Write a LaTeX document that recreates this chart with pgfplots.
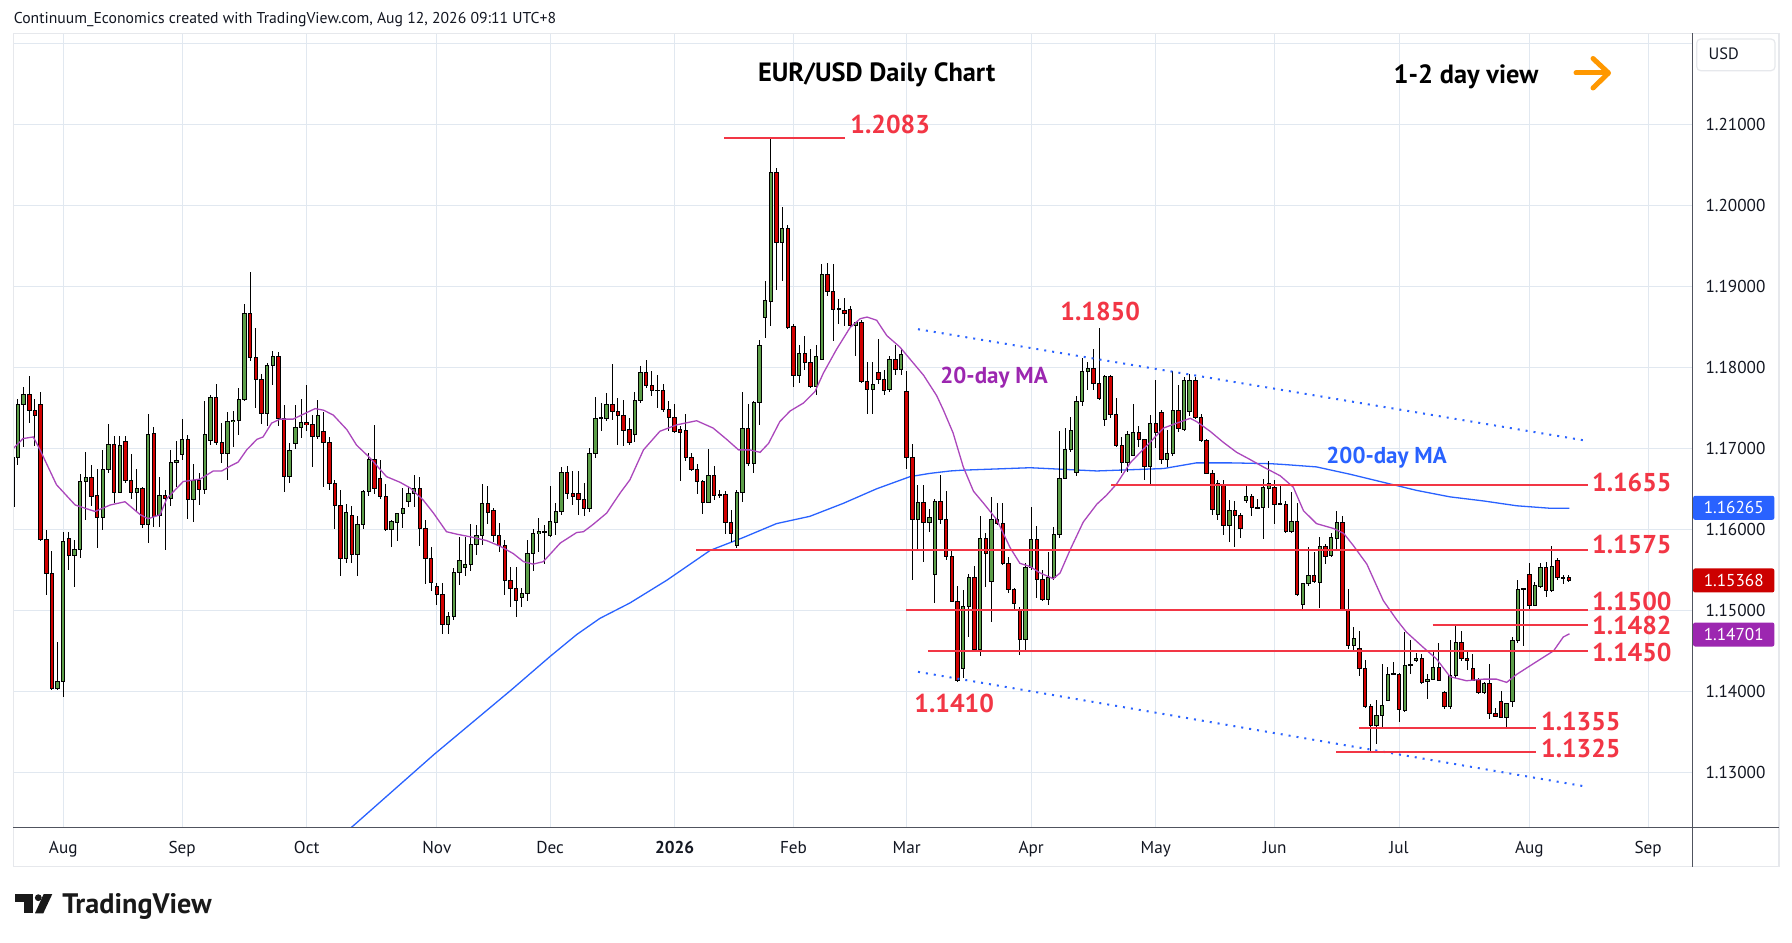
\documentclass[border=0pt]{standalone}
\usepackage{fontspec}
\setmainfont{PT Sans}
\usepackage{pgfplots}
\usepackage{pgfplotstable}
\pgfplotsset{compat=1.18}
\definecolor{cgreen}{RGB}{92,158,72}
\definecolor{cred}{RGB}{209,0,0}
\definecolor{lvl}{RGB}{242,54,69}
\definecolor{tvblue}{RGB}{41,98,255}
\definecolor{tvpurple}{RGB}{156,39,176}
\definecolor{mapurple}{RGB}{171,71,188}
\definecolor{tvgrid}{RGB}{225,232,240}
\definecolor{tvtext}{RGB}{19,23,34}
\definecolor{tvaxis}{RGB}{80,83,94}
\definecolor{tvborder}{RGB}{230,232,236}
\definecolor{tvorange}{RGB}{255,152,0}
\definecolor{tagred}{RGB}{204,0,0}
\newcommand\fs[1]{\fontsize{#1}{#1}\selectfont}
\newcommand\pp[2]{({(#1)*0.5pt},{(942-(#2))*0.5pt})}

\pgfplotstableread{
i o h l c
-9 1.1628 1.1692 1.1620 1.1689
-8 1.1689 1.1761 1.1679 1.1754
-7 1.1754 1.1776 1.1702 1.1766
-6 1.1766 1.1789 1.1731 1.1747
-5 1.1747 1.1761 1.1703 1.1740
-4 1.1754 1.1770 1.1586 1.1587
-3 1.1587 1.1599 1.1519 1.1546
-2 1.1546 1.1573 1.1402 1.1404
-1 1.1404 1.1461 1.1402 1.1412
0 1.1412 1.1597 1.1393 1.1585
1 1.1589 1.1597 1.1550 1.1568
2 1.1568 1.1587 1.1529 1.1575
3 1.1575 1.1668 1.1565 1.1659
4 1.1659 1.1695 1.1612 1.1664
5 1.1664 1.1679 1.1629 1.1640
6 1.1642 1.1675 1.1577 1.1615
7 1.1615 1.1698 1.1599 1.1674
8 1.1674 1.1730 1.1669 1.1705
9 1.1705 1.1715 1.1632 1.1646
10 1.1646 1.1715 1.1645 1.1703
11 1.1709 1.1715 1.1657 1.1660
12 1.1660 1.1693 1.1638 1.1645
13 1.1645 1.1674 1.1623 1.1650
14 1.1650 1.1652 1.1602 1.1606
15 1.1606 1.1742 1.1583 1.1717
16 1.1718 1.1726 1.1603 1.1616
17 1.1617 1.1665 1.1603 1.1642
18 1.1642 1.1648 1.1575 1.1638
19 1.1638 1.1698 1.1629 1.1683
20 1.1683 1.1709 1.1652 1.1685
21 1.1692 1.1736 1.1686 1.1711
22 1.1711 1.1717 1.1613 1.1637
23 1.1637 1.1681 1.1609 1.1660
24 1.1660 1.1669 1.1630 1.1649
25 1.1649 1.1759 1.1644 1.1717
26 1.1709 1.1766 1.1704 1.1763
27 1.1763 1.1779 1.1704 1.1707
28 1.1707 1.1731 1.1682 1.1694
29 1.1694 1.1745 1.1661 1.1733
30 1.1733 1.1746 1.1701 1.1735
31 1.1735 1.1774 1.1717 1.1760
32 1.1760 1.1878 1.1758 1.1866
33 1.1866 1.1918 1.1808 1.1812
34 1.1812 1.1848 1.1750 1.1785
35 1.1785 1.1792 1.1730 1.1743
36 1.1743 1.1805 1.1727 1.1802
37 1.1802 1.1820 1.1778 1.1814
38 1.1814 1.1819 1.1728 1.1737
39 1.1737 1.1754 1.1646 1.1665
40 1.1665 1.1707 1.1657 1.1697
41 1.1706 1.1754 1.1699 1.1726
42 1.1726 1.1761 1.1713 1.1732
43 1.1732 1.1778 1.1722 1.1729
44 1.1729 1.1741 1.1677 1.1715
45 1.1715 1.1760 1.1712 1.1740
46 1.1721 1.1745 1.1652 1.1707
47 1.1707 1.1714 1.1648 1.1657
48 1.1657 1.1661 1.1600 1.1629
49 1.1629 1.1649 1.1543 1.1564
50 1.1564 1.1631 1.1558 1.1621
51 1.1617 1.1629 1.1558 1.1569
52 1.1569 1.1616 1.1543 1.1606
53 1.1606 1.1649 1.1601 1.1647
54 1.1647 1.1694 1.1641 1.1686
55 1.1686 1.1729 1.1644 1.1651
56 1.1663 1.1686 1.1637 1.1641
57 1.1641 1.1656 1.1598 1.1600
58 1.1600 1.1612 1.1578 1.1609
59 1.1609 1.1620 1.1586 1.1619
60 1.1619 1.1651 1.1602 1.1626
61 1.1635 1.1652 1.1628 1.1644
62 1.1644 1.1667 1.1628 1.1650
63 1.1650 1.1665 1.1579 1.1601
64 1.1601 1.1612 1.1532 1.1564
65 1.1564 1.1578 1.1524 1.1534
66 1.1529 1.1534 1.1507 1.1520
67 1.1520 1.1534 1.1471 1.1483
68 1.1483 1.1498 1.1471 1.1492
69 1.1492 1.1552 1.1488 1.1547
70 1.1547 1.1591 1.1531 1.1562
71 1.1553 1.1591 1.1542 1.1557
72 1.1557 1.1607 1.1548 1.1581
73 1.1581 1.1605 1.1568 1.1593
74 1.1593 1.1656 1.1581 1.1632
75 1.1632 1.1653 1.1607 1.1621
76 1.1623 1.1626 1.1585 1.1592
77 1.1592 1.1608 1.1572 1.1580
78 1.1580 1.1587 1.1519 1.1537
79 1.1537 1.1553 1.1504 1.1527
80 1.1527 1.1553 1.1492 1.1512
81 1.1516 1.1527 1.1504 1.1521
82 1.1521 1.1587 1.1512 1.1570
83 1.1570 1.1601 1.1548 1.1595
84 1.1595 1.1614 1.1572 1.1597
85 1.1597 1.1605 1.1557 1.1596
86 1.1592 1.1653 1.1591 1.1609
87 1.1609 1.1632 1.1593 1.1622
88 1.1622 1.1677 1.1618 1.1670
89 1.1670 1.1678 1.1638 1.1644
90 1.1644 1.1672 1.1630 1.1641
91 1.1644 1.1672 1.1618 1.1637
92 1.1637 1.1657 1.1616 1.1626
93 1.1626 1.1700 1.1622 1.1694
94 1.1694 1.1763 1.1688 1.1737
95 1.1737 1.1756 1.1721 1.1738
96 1.1737 1.1768 1.1734 1.1754
97 1.1754 1.1804 1.1735 1.1745
98 1.1745 1.1762 1.1704 1.1740
99 1.1740 1.1760 1.1703 1.1722
100 1.1723 1.1737 1.1704 1.1707
101 1.1717 1.1769 1.1708 1.1759
102 1.1759 1.1802 1.1756 1.1794
103 1.1794 1.1809 1.1774 1.1778
104 1.1778 1.1796 1.1765 1.1771
105 1.1771 1.1790 1.1750 1.1772
106 1.1771 1.1780 1.1745 1.1748
107 1.1748 1.1759 1.1722 1.1738
108 1.1738 1.1755 1.1719 1.1721
109 1.1723 1.1727 1.1660 1.1720
110 1.1722 1.1743 1.1685 1.1689
111 1.1689 1.1694 1.1672 1.1674
112 1.1674 1.1680 1.1644 1.1659
113 1.1659 1.1661 1.1619 1.1633
114 1.1633 1.1699 1.1632 1.1667
115 1.1667 1.1678 1.1636 1.1642
116 1.1642 1.1648 1.1639 1.1643
117 1.1643 1.1647 1.1594 1.1608
118 1.1608 1.1624 1.1584 1.1595
119 1.1580 1.1648 1.1577 1.1645
120 1.1645 1.1769 1.1634 1.1724
121 1.1724 1.1755 1.1678 1.1681
122 1.1681 1.1759 1.1669 1.1756
123 1.1756 1.1834 1.1729 1.1827
124 1.1861 1.1907 1.1836 1.1882
125 1.1881 1.2083 1.1851 1.2040
126 1.2040 1.2046 1.1896 1.1954
127 1.1954 1.1998 1.1907 1.1971
128 1.1971 1.1976 1.1847 1.1849
129 1.1851 1.1853 1.1776 1.1790
130 1.1790 1.1828 1.1781 1.1817
131 1.1817 1.1838 1.1797 1.1806
132 1.1806 1.1822 1.1774 1.1776
133 1.1776 1.1827 1.1766 1.1814
134 1.1810 1.1927 1.1809 1.1915
135 1.1915 1.1929 1.1888 1.1894
136 1.1894 1.1928 1.1833 1.1871
137 1.1871 1.1885 1.1854 1.1872
138 1.1870 1.1885 1.1851 1.1867
139 1.1872 1.1876 1.1849 1.1852
140 1.1852 1.1856 1.1814 1.1855
141 1.1855 1.1858 1.1780 1.1783
142 1.1783 1.1807 1.1743 1.1773
143 1.1773 1.1807 1.1743 1.1779
144 1.1793 1.1835 1.1779 1.1785
145 1.1785 1.1797 1.1766 1.1772
146 1.1772 1.1814 1.1770 1.1810
147 1.1810 1.1828 1.1791 1.1797
148 1.1797 1.1824 1.1790 1.1816
149 1.1770 1.1795 1.1675 1.1688
150 1.1688 1.1706 1.1537 1.1612
151 1.1612 1.1655 1.1574 1.1633
152 1.1633 1.1655 1.1560 1.1608
153 1.1608 1.1625 1.1597 1.1615
154 1.1544 1.1637 1.1509 1.1635
155 1.1635 1.1667 1.1607 1.1612
156 1.1612 1.1647 1.1562 1.1567
157 1.1567 1.1574 1.1510 1.1511
158 1.1511 1.1530 1.1412 1.1414
159 1.1428 1.1525 1.1416 1.1505
160 1.1505 1.1545 1.1467 1.1540
161 1.1540 1.1555 1.1451 1.1452
162 1.1452 1.1616 1.1444 1.1589
163 1.1589 1.1595 1.1529 1.1570
164 1.1536 1.1640 1.1486 1.1612
165 1.1612 1.1633 1.1605 1.1607
166 1.1607 1.1632 1.1556 1.1558
167 1.1558 1.1566 1.1521 1.1526
168 1.1526 1.1528 1.1502 1.1508
169 1.1501 1.1504 1.1445 1.1464
170 1.1464 1.1558 1.1448 1.1553
171 1.1553 1.1627 1.1550 1.1588
172 1.1588 1.1604 1.1515 1.1538
173 1.1538 1.1550 1.1512 1.1514
174 1.1514 1.1572 1.1507 1.1541
175 1.1541 1.1603 1.1537 1.1594
176 1.1594 1.1721 1.1589 1.1663
177 1.1663 1.1725 1.1662 1.1698
178 1.1698 1.1739 1.1696 1.1722
179 1.1670 1.1765 1.1666 1.1758
180 1.1758 1.1811 1.1752 1.1795
181 1.1795 1.1807 1.1772 1.1799
182 1.1799 1.1823 1.1772 1.1780
183 1.1780 1.1848 1.1760 1.1762
184 1.1736 1.1791 1.1728 1.1788
185 1.1788 1.1791 1.1738 1.1742
186 1.1742 1.1762 1.1702 1.1703
187 1.1703 1.1714 1.1670 1.1683
188 1.1683 1.1721 1.1671 1.1717
189 1.1691 1.1755 1.1690 1.1719
190 1.1719 1.1728 1.1702 1.1711
191 1.1711 1.1712 1.1661 1.1677
192 1.1677 1.1741 1.1656 1.1731
193 1.1731 1.1785 1.1700 1.1719
194 1.1744 1.1747 1.1681 1.1686
195 1.1686 1.1723 1.1677 1.1693
196 1.1693 1.1796 1.1690 1.1747
197 1.1747 1.1778 1.1720 1.1724
198 1.1723 1.1788 1.1722 1.1784
199 1.1745 1.1792 1.1740 1.1784
200 1.1784 1.1788 1.1736 1.1738
201 1.1738 1.1742 1.1708 1.1709
202 1.1709 1.1712 1.1668 1.1669
203 1.1669 1.1673 1.1618 1.1625
204 1.1618 1.1661 1.1612 1.1656
205 1.1656 1.1661 1.1593 1.1605
206 1.1605 1.1636 1.1585 1.1623
207 1.1623 1.1635 1.1578 1.1617
208 1.1617 1.1620 1.1589 1.1601
209 1.1636 1.1653 1.1632 1.1640
210 1.1640 1.1644 1.1616 1.1627
211 1.1626 1.1638 1.1625 1.1627
212 1.1627 1.1662 1.1588 1.1651
213 1.1650 1.1685 1.1626 1.1657
214 1.1651 1.1661 1.1607 1.1631
215 1.1631 1.1654 1.1630 1.1632
216 1.1631 1.1635 1.1595 1.1597
217 1.1597 1.1646 1.1596 1.1609
218 1.1609 1.1633 1.1518 1.1520
219 1.1507 1.1533 1.1500 1.1533
220 1.1533 1.1578 1.1530 1.1543
221 1.1543 1.1572 1.1534 1.1535
222 1.1535 1.1590 1.1503 1.1579
223 1.1579 1.1582 1.1557 1.1566
224 1.1568 1.1595 1.1566 1.1590
225 1.1589 1.1622 1.1576 1.1608
226 1.1608 1.1616 1.1499 1.1500
227 1.1500 1.1526 1.1452 1.1457
228 1.1457 1.1479 1.1451 1.1465
229 1.1453 1.1474 1.1419 1.1428
230 1.1428 1.1439 1.1379 1.1381
231 1.1381 1.1384 1.1326 1.1358
232 1.1358 1.1389 1.1335 1.1370
233 1.1370 1.1434 1.1356 1.1382
234 1.1389 1.1430 1.1388 1.1421
235 1.1421 1.1436 1.1420 1.1422
236 1.1421 1.1423 1.1362 1.1377
237 1.1377 1.1473 1.1374 1.1432
238 1.1432 1.1463 1.1421 1.1433
239 1.1438 1.1447 1.1436 1.1441
240 1.1441 1.1446 1.1409 1.1411
241 1.1412 1.1421 1.1391 1.1415
242 1.1415 1.1450 1.1414 1.1429
243 1.1429 1.1460 1.1413 1.1414
244 1.1399 1.1400 1.1378 1.1381
245 1.1381 1.1463 1.1378 1.1419
246 1.1419 1.1482 1.1417 1.1460
247 1.1460 1.1474 1.1438 1.1441
248 1.1441 1.1451 1.1426 1.1438
249 1.1428 1.1446 1.1413 1.1414
250 1.1414 1.1417 1.1397 1.1398
251 1.1398 1.1412 1.1397 1.1410
252 1.1410 1.1434 1.1366 1.1373
253 1.1373 1.1380 1.1368 1.1369
254 1.1388 1.1400 1.1367 1.1368
255 1.1368 1.1386 1.1354 1.1385
256 1.1387 1.1467 1.1380 1.1463
257 1.1463 1.1537 1.1460 1.1526
258 1.1526 1.1527 1.1456 1.1527
259 1.1544 1.1559 1.1500 1.1506
260 1.1506 1.1535 1.1505 1.1530
261 1.1530 1.1559 1.1528 1.1553
262 1.1553 1.1559 1.1516 1.1524
263 1.1524 1.1580 1.1523 1.1554
264 1.1562 1.1565 1.1538 1.1540
265 1.1540 1.1543 1.1532 1.1541
266 1.1540 1.1544 1.1535 1.1537
}\candles

\pgfplotsset{
  candle/.style={draw=none, mark=none, forget plot,
    error bars/y dir=both, error bars/y explicit, error bars/error mark=none,
    error bars/error bar style={#1}},
}

\begin{document}
\begin{tikzpicture}
\useasboundingbox (0,0) rectangle (896pt,471pt);
\fill[white] (0,0) rectangle (896pt,471pt);
\begin{axis}[
  at={(6.65pt,57.15pt)}, anchor=south west,
  scale only axis, width=839.5pt, height=397.2pt,
  xmin=-8.83, xmax=287.8, ymin=1.12316, ymax=1.22123,
  axis line style={draw=none},
  major tick length=0pt,
  xtick={0,21,43,66,86,108,129,149,171,193,214,236,259,280},
  xticklabels={Aug,Sep,Oct,Nov,Dec,\textbf{2026},Feb,Mar,Apr,May,Jun,Jul,Aug,Sep},
  xticklabel style={anchor=base, inner sep=0pt, yshift=-12.8pt, font=\fs{8.6pt}, text=tvtext},
  ytick={1.13,1.14,1.15,1.16,1.17,1.18,1.19,1.20,1.21,1.22},
  yticklabels={1.13000,1.14000,1.15000,1.16000,1.17000,1.18000,1.19000,1.20000,1.21000,{}},
  yticklabel pos=right,
  yticklabel style={anchor=base west, inner sep=0pt, xshift=6.4pt, yshift=-3pt, font=\fs{8.6pt}, text=tvtext},
  xmajorgrids, ymajorgrids,
  grid style={draw=tvgrid, line width=0.5pt},
  clip mode=individual,
]
% 200-day MA
\addplot[tvblue, line width=0.65pt, mark=none] coordinates {
(48,1.1215) (51.4,1.1235) (65.5,1.1322) (79.2,1.1402) (86.0,1.1443) (90.7,1.1470)
(94.8,1.1490) (100.1,1.1509) (106.6,1.1537) (114.3,1.1574) (120.2,1.1590) (126.0,1.1607)
(131.9,1.1616) (137.8,1.1632) (143.7,1.1650) (149.6,1.1665) (153.1,1.1669) (156.7,1.1672)
(159.0,1.1673) (170.8,1.1676) (182.6,1.1672) (194.4,1.1675) (200.2,1.1682) (206.1,1.1682)
(213.2,1.1681) (215.6,1.1680) (221.4,1.1677) (227.3,1.1668) (233.2,1.1658) (239.1,1.1648)
(245.0,1.1640) (250.9,1.1635) (256.8,1.1629) (262.6,1.1626) (266.1,1.1626)};
% candle wicks
\addplot[candle={draw=black, line width=0.5pt}]
  table[x=i, y expr={(\thisrow{h}+\thisrow{l})/2}, y error expr={(\thisrow{h}-\thisrow{l})/2}] {\candles};
% green bodies
\addplot[candle={draw=black, line width=2.2pt}, restrict expr to domain={\thisrow{c}-\thisrow{o}}{0:1}]
  table[x=i, y expr={(\thisrow{o}+\thisrow{c})/2}, y error expr={abs(\thisrow{c}-\thisrow{o})/2+0.0000617}] {\candles};
\addplot[candle={draw=cgreen, line width=1.2pt}, restrict expr to domain={\thisrow{c}-\thisrow{o}}{0:1}]
  table[x=i, y expr={(\thisrow{o}+\thisrow{c})/2}, y error expr={max(abs(\thisrow{c}-\thisrow{o})/2-0.0000617,0)}] {\candles};
% red bodies
\addplot[candle={draw=black, line width=2.2pt}, restrict expr to domain={\thisrow{c}-\thisrow{o}}{-1:0}]
  table[x=i, y expr={(\thisrow{o}+\thisrow{c})/2}, y error expr={abs(\thisrow{c}-\thisrow{o})/2+0.0000617}] {\candles};
\addplot[candle={draw=cred, line width=1.2pt}, restrict expr to domain={\thisrow{c}-\thisrow{o}}{-1:0}]
  table[x=i, y expr={(\thisrow{o}+\thisrow{c})/2}, y error expr={max(abs(\thisrow{c}-\thisrow{o})/2-0.0000617,0)}] {\candles};
% 20-day MA
\addplot[mapurple, line width=0.65pt, mark=none] coordinates {
(-8.8,1.1700) (-7.1,1.1712) (-5.3,1.1714) (-4.1,1.1698) (-1.2,1.1655) (2.1,1.1630) (5.6,1.1622)
(8.3,1.1630) (10.9,1.1634) (13.6,1.1618) (15.0,1.1613) (17.1,1.1618) (18.3,1.1638) (21.2,1.1659)
(24.2,1.1662) (26.5,1.1672) (28.0,1.1672) (29.5,1.1678) (30.9,1.1683) (32.4,1.1698) (34.2,1.1711)
(35.3,1.1714) (36.8,1.1731) (38.3,1.1736) (40.6,1.1736) (42.7,1.1743) (44.5,1.1749) (46.0,1.1747)
(47.7,1.1741) (50.1,1.1723) (51.8,1.1704) (54.2,1.1688) (57.1,1.1665) (59.5,1.1658) (61.3,1.1651)
(63.6,1.1636) (65.4,1.1620) (67.7,1.1597) (69.5,1.1594) (72.4,1.1590) (74.8,1.1586) (77.2,1.1579)
(79.5,1.1570) (81.3,1.1560) (83.0,1.1557) (84.8,1.1560) (87.8,1.1583) (90.7,1.1596) (91.9,1.1597)
(93.6,1.1606) (96.0,1.1620) (98.4,1.1645) (100.1,1.1661) (102.5,1.1698) (105.4,1.1721) (108.4,1.1729)
(111.9,1.1734) (114.8,1.1725) (117.2,1.1711) (119.3,1.1698) (121.3,1.1698) (123.1,1.1695) (124.6,1.1706)
(126.6,1.1733) (128.4,1.1746) (130.8,1.1756) (132.8,1.1770) (134.3,1.1793) (136.6,1.1822) (139.0,1.1849)
(140.8,1.1860) (142.0,1.1862) (143.7,1.1858) (145.5,1.1839) (147.8,1.1825) (149.6,1.1810) (152.0,1.1790)
(154.3,1.1765) (155.5,1.1747) (157.2,1.1719) (159.0,1.1677) (160.8,1.1647) (162.6,1.1632) (164.9,1.1612)
(167.3,1.1577) (169.0,1.1558) (170.8,1.1554) (172.6,1.1546) (174.9,1.1539) (176.1,1.1546) (177.9,1.1575)
(180.2,1.1609) (182.6,1.1631) (184.3,1.1642) (186.1,1.1656) (188.5,1.1682) (191.4,1.1703) (194.4,1.1725)
(196.7,1.1731) (199.1,1.1737) (200.2,1.1733) (202.6,1.1721) (205.0,1.1707) (207.3,1.1695) (209.7,1.1686)
(212.0,1.1677) (215.0,1.1666) (217.3,1.1652) (219.1,1.1623) (221.4,1.1607) (224.4,1.1601) (226.2,1.1595)
(227.9,1.1580) (230.3,1.1557) (233.2,1.1512) (235.6,1.1488) (237.3,1.1473) (240.3,1.1454) (242.6,1.1440)
(245.0,1.1418) (247.9,1.1413) (250.9,1.1415) (253.2,1.1415) (255.0,1.1411) (256.8,1.1421) (259.7,1.1434)
(261.5,1.1442) (263.3,1.1450) (265.0,1.1467) (266.1,1.1471)};
% trend channel
\addplot[tvblue, line width=1pt, dash pattern=on 1pt off 3pt, mark=none] coordinates {(151.0,1.1847) (268.5,1.1710)};
\addplot[tvblue, line width=1pt, dash pattern=on 1pt off 3pt, mark=none] coordinates {(151.0,1.1424) (268.5,1.1283)};
% levels
\addplot[lvl, line width=1pt, mark=none] coordinates {(116.8,1.2083) (138.1,1.2083)};
\addplot[lvl, line width=1pt, mark=none] coordinates {(185.1,1.1655) (269.3,1.1655)};
\addplot[lvl, line width=1pt, mark=none] coordinates {(111.8,1.1575) (269.3,1.1575)};
\addplot[lvl, line width=1pt, mark=none] coordinates {(148.9,1.1500) (269.3,1.1500)};
\addplot[lvl, line width=1pt, mark=none] coordinates {(241.9,1.1482) (269.3,1.1482)};
\addplot[lvl, line width=1pt, mark=none] coordinates {(152.8,1.1450) (269.3,1.1450)};
\addplot[lvl, line width=1pt, mark=none] coordinates {(229.0,1.1355) (260.1,1.1355)};
\addplot[lvl, line width=1pt, mark=none] coordinates {(224.9,1.1325) (260.1,1.1325)};
% price tags
\node[anchor=west, xshift=0.2pt, fill=tvblue, text=white, minimum width=40.6pt, minimum height=12pt, inner sep=0pt, rounded corners=1pt, font=\fs{8.6pt}] at (axis cs:287.8,1.16265) {1.16265};
\node[anchor=west, xshift=0.2pt, fill=tagred, text=white, minimum width=40.6pt, minimum height=12pt, inner sep=0pt, rounded corners=1pt, font=\fs{8.6pt}] at (axis cs:287.8,1.15368) {1.15368};
\node[anchor=west, xshift=0.2pt, fill=tvpurple, text=white, minimum width=40.6pt, minimum height=12pt, inner sep=0pt, rounded corners=1pt, font=\fs{8.6pt}] at (axis cs:287.8,1.14701) {1.14701};
\end{axis}
% frame and separators
\draw[tvborder, line width=0.7pt] \pp{13.3}{33.3} rectangle \pp{1779}{866.7};
\draw[tvaxis, line width=0.6pt] \pp{1692.3}{33.3} -- \pp{1692.3}{866.7};
\draw[tvaxis, line width=0.6pt] \pp{13.3}{827.7} -- \pp{1779}{827.7};
% USD box
\draw[tvborder, line width=0.6pt, rounded corners=2pt] \pp{1696.7}{39} rectangle \pp{1775}{70.7};
\node[anchor=base west, inner sep=0pt, font=\fs{8.2pt}, text=tvtext] at \pp{1708.3}{60} {USD};
% header
\node[anchor=base west, inner sep=0pt, font=\fs{7.85pt}, text=tvtext] at \pp{13.5}{23.5} {Continuum\_Economics created with TradingView.com, Aug 12, 2026 09:11 UTC+8};
% titles
\node[anchor=base west, inner sep=0pt, font=\bfseries\fs{13.2pt}, text=black] at \pp{757.7}{82} {EUR/USD Daily Chart};
\node[anchor=base west, inner sep=0pt, font=\bfseries\fs{13.2pt}, text=black] at \pp{1393.3}{83.3} {1-2 day view};
\draw[tvorange, line width=2.5pt, line cap=round, line join=round] \pp{1576}{73} -- \pp{1607}{73};
\draw[tvorange, line width=2.5pt, line cap=round, line join=round] \pp{1593}{58.5} -- \pp{1608.5}{73} -- \pp{1593}{88};
% level labels
\begin{scope}[every node/.style={anchor=base west, inner sep=0pt, font=\bfseries\fs{12.9pt}, text=lvl}]
\node at \pp{850}{133.3} {1.2083};
\node at \pp{1060}{320.7} {1.1850};
\node at \pp{914}{713} {1.1410};
\node at \pp{1591.7}{491.7} {1.1655};
\node at \pp{1591.7}{553.3} {1.1575};
\node at \pp{1591.7}{610.7} {1.1500};
\node at \pp{1591.7}{635} {1.1482};
\node at \pp{1591.7}{661.7} {1.1450};
\node at \pp{1540.7}{730.7} {1.1355};
\node at \pp{1540.7}{757.3} {1.1325};
\end{scope}
\node[anchor=base west, inner sep=0pt, font=\bfseries\fs{11.5pt}, text=tvpurple] at \pp{940}{383.3} {20-day MA};
\node[anchor=base west, inner sep=0pt, font=\bfseries\fs{11.5pt}, text=tvblue] at \pp{1326}{463.3} {200-day MA};
% TradingView logo
\fill[black!90] \pp{15}{894} rectangle \pp{33.3}{901.7};
\fill[black!90] \pp{24}{894} rectangle \pp{33.3}{913.3};
\fill[black!90] \pp{38.3}{897.7} circle (1.7pt);
\fill[black!90] \pp{43.7}{894} -- \pp{52.3}{894} -- \pp{43.3}{913.3} -- \pp{35}{913.3} -- cycle;
\node[anchor=base west, inner sep=0pt, font=\bfseries\fs{14.1pt}, text=black!90] at \pp{62}{913.3} {TradingView};
\end{tikzpicture}
\end{document}
